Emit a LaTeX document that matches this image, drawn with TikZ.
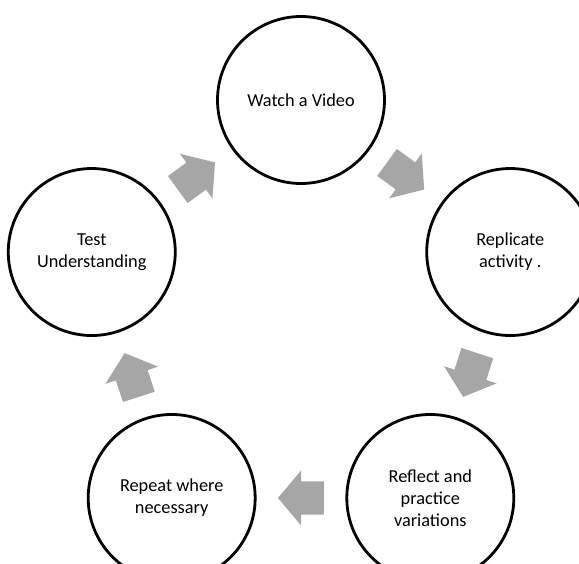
\documentclass[tikz,border=0pt]{standalone}
\usepackage{fontspec}
\setmainfont{Carlito}
\usepackage{xcolor}
\usepackage{tikz}
\usetikzlibrary{shapes.arrows,calc}
\definecolor{arrowgray}{HTML}{A6A6A6}
\tikzset{
  stage/.style    ={draw,circle,line width=2.8pt,align=center,inner sep=0pt,
                    minimum size=167pt,font=\fontsize{18.3}{22}\selectfont},
  blockarr/.style ={single arrow,fill=arrowgray,draw=none,
                    inner xsep=0pt,inner ysep=16.5pt,outer sep=0pt,
                    minimum height=46pt,
                    single arrow head extend=11pt,single arrow tip angle=100},
}

\begin{document}
\begin{tikzpicture}[x=1pt,y=1pt]
\clip (-301,-243) rectangle (278,320);

% --- stages of the cycle -----------------------------------------------------
\node[stage] (watch) at (90:220)  {Watch a Video};
\node[stage] (repl)  at (18:220)  {Replicate\\activity .};
\node[stage] (refl)  at (-54:220) {Reflect and\\practice\\variations};
\node[stage] (rept)  at (234:220) {Repeat where\\necessary};
\node[stage] (test)  at (162:220) {Test\\Understanding};

% --- block arrows between stages (pulled back a little towards the tail) -----
\node[blockarr,rotate=-36]  (a1) at ($(watch)!0.5!(repl)!7pt!(watch)$) {};
\node[blockarr,rotate=-108] (a2) at ($(repl)!0.5!(refl)!7pt!(repl)$)   {};
\node[blockarr,rotate=180]  (a3) at ($(refl)!0.5!(rept)!7pt!(refl)$)   {};
\node[blockarr,rotate=108]  (a4) at ($(rept)!0.5!(test)!7pt!(rept)$)   {};
\node[blockarr,rotate=36]   (a5) at ($(test)!0.5!(watch)!7pt!(test)$)  {};

\end{tikzpicture}
\end{document}
